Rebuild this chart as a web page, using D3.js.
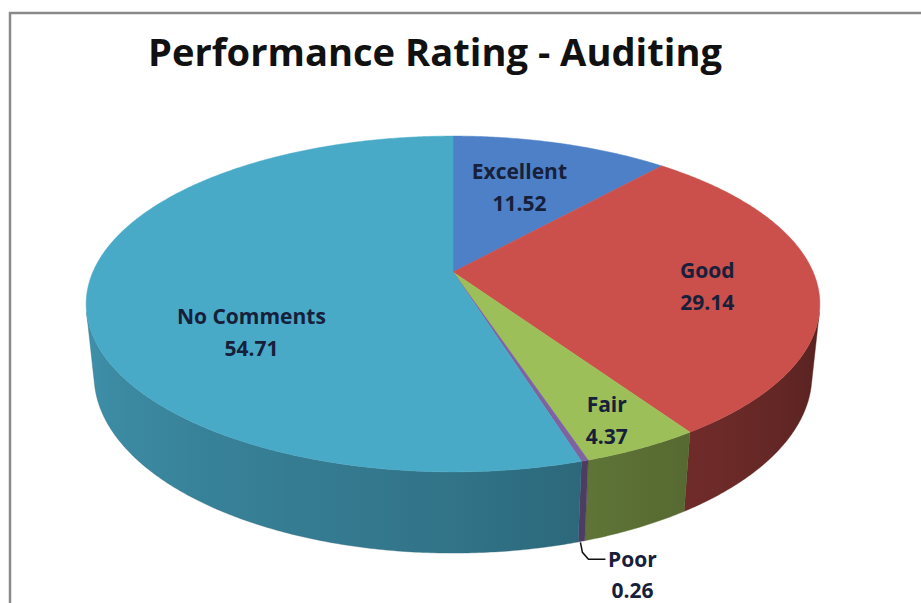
<!DOCTYPE html>
<html>
<head>
<meta charset="utf-8">
<script src="https://cdn.jsdelivr.net/npm/d3@7"></script>
<style>
  html, body { margin: 0; padding: 0; background: #ffffff; }
  svg { display: block; }
</style>
</head>
<body>
<svg id="chart" width="921" height="603"></svg>
<script>
// ---- data ----
const title = "Performance Rating - Auditing";
const categories = ["Excellent", "Good", "Fair", "Poor", "No Comments"];
const values = [11.52, 29.14, 4.37, 0.26, 54.71];
const valueLabels = ["11.52", "29.14", "4.37", "0.26", "54.71"];

// ---- styles / layout ----
const topColors = ["#4d80c6", "#cb4f4b", "#9cbf59", "#7e63a1", "#49aac8"];
const labelAngle = [19.3, 97, 155, null, 236.5];   // degrees, clockwise from 12 o'clock
const labelRadius = [0.62, 0.70, 0.86, null, 0.627];

const W = 921, H = 603;
const svg = d3.select("#chart");
const defs = svg.append("defs");

// perspective camera for the 3D pie
const cam = { cx: 453, cy: 272, f: 1689, D: 4.69, tilt: 26.7 * Math.PI / 180 };
const depth = 0.223;
const cs = Math.cos(cam.tilt), sn = Math.sin(cam.tilt);
function proj(theta, r, Y) {
  const X = r * Math.sin(theta), Z = r * Math.cos(theta);
  const yc = Y * cs + Z * sn;
  const zc = -Y * sn + Z * cs + cam.D;
  return [cam.cx + cam.f * X / zc, cam.cy - cam.f * yc / zc];
}

// border of chart area
svg.append("path")
  .attr("d", "M10," + (H + 5) + "V13H" + (W + 5))
  .attr("fill", "none").attr("stroke", "#8a8a8a").attr("stroke-width", 2.5);

// title
svg.append("text")
  .attr("x", 435).attr("y", 66)
  .attr("text-anchor", "middle")
  .attr("font-family", "Open Sans, Lato, sans-serif")
  .attr("font-weight", 700)
  .attr("font-size", 37)
  .attr("textLength", 574)
  .attr("lengthAdjust", "spacingAndGlyphs")
  .attr("fill", "#111")
  .text(title);

const pie = d3.pie().sort(null).startAngle(0).endAngle(2 * Math.PI);
const arcs = pie(values).map((d, i) => Object.assign(d, { i }));

const step = Math.PI / 360;
function sampleAngles(a0, a1) {
  const n = Math.max(1, Math.ceil((a1 - a0) / step));
  return d3.range(n + 1).map(k => a0 + (a1 - a0) * k / n);
}
const line = d3.line();

// side walls (visible front part only), one path per slice with a shading gradient
const cosLimit = -1 / (cam.D * cs);
const visLo = Math.acos(cosLimit), visHi = 2 * Math.PI - visLo;
const shade = d3.scaleLinear()
  .domain([104, 150, 180, 256].map(a => a * Math.PI / 180))
  .range([0.42, 0.56, 0.68, 0.86]).clamp(true);
function shadeColor(i, t) {
  const c = d3.rgb(topColors[i]); const k = shade(t);
  return d3.rgb(c.r * k, c.g * k, c.b * k).formatHex();
}

const sides = [];
arcs.forEach(d => {
  const a0 = Math.max(d.startAngle, visLo), a1 = Math.min(d.endAngle, visHi);
  if (a1 <= a0) return;
  sides.push({ i: d.i, angs: sampleAngles(a0, a1) });
});
sides.forEach(sd => {
  const xs = sd.angs.map(t => proj(t, 1, 0)[0]);
  const xMin = d3.min(xs), xMax = d3.max(xs);
  const g = defs.append("linearGradient")
    .attr("id", "side" + sd.i).attr("gradientUnits", "userSpaceOnUse")
    .attr("x1", xMin).attr("x2", Math.max(xMax, xMin + 0.01)).attr("y1", 0).attr("y2", 0);
  const stops = sd.angs.filter((t, k) => k % 6 === 0 || k === sd.angs.length - 1);
  g.selectAll("stop").data(stops.slice().sort((a, b) => proj(a, 1, 0)[0] - proj(b, 1, 0)[0])).join("stop")
    .attr("offset", t => xMax > xMin ? (proj(t, 1, 0)[0] - xMin) / (xMax - xMin) : 0)
    .attr("stop-color", t => shadeColor(sd.i, t));
});
svg.append("g").selectAll("path").data(sides).join("path")
  .attr("d", sd => line(sd.angs.map(t => proj(t, 1, 0)).concat(sd.angs.slice().reverse().map(t => proj(t, 1, -depth)))) + "Z")
  .attr("fill", sd => "url(#side" + sd.i + ")")
  .attr("stroke", sd => shadeColor(sd.i, sd.angs[0]))
  .attr("stroke-width", 0.4);

// top faces
svg.append("g").selectAll("path").data(arcs).join("path")
  .attr("d", d => line([proj(0, 0, 0)].concat(sampleAngles(d.startAngle, d.endAngle).map(t => proj(t, 1, 0)))) + "Z")
  .attr("fill", d => topColors[d.i])
  .attr("stroke", d => topColors[d.i])
  .attr("stroke-width", 0.5)
  .attr("stroke-linejoin", "round");

// labels
const font = "Open Sans, Lato, sans-serif";
const labelColor = "#17203a";
const lg = svg.append("g")
  .attr("font-family", font).attr("font-weight", 700).attr("font-size", 21)
  .attr("fill", labelColor).attr("text-anchor", "middle");

arcs.forEach(d => {
  if (labelAngle[d.i] == null) return;
  const p = proj(labelAngle[d.i] * Math.PI / 180, labelRadius[d.i], 0);
  lg.append("text").attr("x", p[0]).attr("y", p[1] - 8).text(categories[d.i]);
  lg.append("text").attr("x", p[0]).attr("y", p[1] + 24).text(valueLabels[d.i]);
});

// "Poor" label with leader line from the bottom of its side wall
const poor = arcs[3];
const mid = (poor.startAngle + poor.endAngle) / 2;
const anchor = proj(mid, 1, -depth);
const leader = [
  [anchor[0] - 1, anchor[1] + 1],
  [anchor[0] + 1, anchor[1] + 11],
  [anchor[0] + 7, anchor[1] + 18],
  [anchor[0] + 24, anchor[1] + 18]
];
svg.append("path").attr("d", line(leader))
  .attr("fill", "none").attr("stroke", "#111").attr("stroke-width", 1.5);
lg.append("text").attr("x", leader[3][0] + 27).attr("y", leader[3][1] + 8).text(categories[3]);
lg.append("text").attr("x", leader[3][0] + 27).attr("y", leader[3][1] + 39).text(valueLabels[3]);
</script>
</body>
</html>
